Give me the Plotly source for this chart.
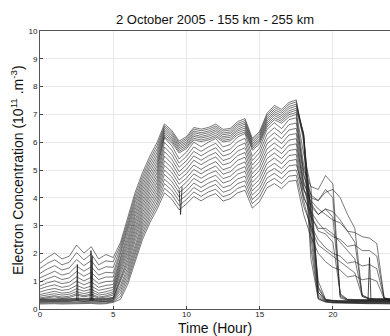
import plotly.graph_objects as go

hours = [0.0, 0.5, 1.0, 1.5, 2.0, 2.5, 3.0, 3.5, 4.0, 4.5, 5.0, 5.5, 6.0, 6.5, 7.0, 7.5,
         8.0, 8.5, 9.0, 9.5, 10.0, 10.5, 11.0, 11.5, 12.0, 12.5, 13.0, 13.5, 14.0, 14.5,
         15.0, 15.5, 16.0, 16.5, 17.0, 17.5, 18.0, 18.5, 19.0, 19.5, 20.0, 20.5, 21.0,
         21.5, 22.0, 22.5, 23.0, 23.5, 24.0]

h255 = [1.65, 1.85, 2.01, 1.80, 1.90, 2.30, 2.01, 2.24, 1.80, 1.96,
        1.85, 2.40, 3.30, 4.20, 4.90, 5.50, 6.00,
        6.66, 6.42, 6.04, 6.20, 6.53, 6.47, 6.53, 6.65, 6.46, 6.50, 6.74, 6.85, 6.14, 6.39, 7.04, 7.32, 7.18, 7.43, 7.52,
        6.00, 1.80, 0.35, 0.25, 0.22, 0.21, 0.20, 0.20, 0.19, 0.19, 0.19, 0.18, 0.18]
h250 = [1.46, 1.64, 1.77, 1.59, 1.68, 2.03, 1.77, 1.98, 1.59, 1.73,
        1.70, 2.30, 3.18, 4.08, 4.78, 5.38, 5.88,
        6.59, 6.36, 5.98, 6.14, 6.47, 6.41, 6.47, 6.58, 6.40, 6.44, 6.67, 6.78, 6.08, 6.33, 6.97, 7.25, 7.11, 7.36, 7.45,
        6.20, 2.20, 0.38, 0.26, 0.23, 0.22, 0.21, 0.21, 0.20, 0.20, 0.20, 0.20, 0.20]
h245 = [1.28, 1.44, 1.56, 1.40, 1.48, 1.78, 1.56, 1.74, 1.40, 1.52,
        1.50, 2.20, 3.06, 3.95, 4.66, 5.26, 5.76,
        6.53, 6.29, 5.92, 6.08, 6.40, 6.34, 6.40, 6.52, 6.33, 6.37, 6.61, 6.71, 6.02, 6.26, 6.90, 7.17, 7.04, 7.28, 7.37,
        6.30, 2.60, 0.42, 0.27, 0.24, 0.23, 0.23, 0.22, 0.22, 0.22, 0.22, 0.21, 0.21]
h240 = [1.12, 1.25, 1.36, 1.22, 1.29, 1.55, 1.36, 1.52, 1.22, 1.32,
        1.30, 2.09, 2.94, 3.83, 4.54, 5.14, 5.64,
        6.46, 6.23, 5.86, 6.01, 6.34, 6.28, 6.34, 6.45, 6.27, 6.31, 6.54, 6.65, 5.95, 6.20, 6.83, 7.10, 6.96, 7.21, 7.30,
        6.30, 3.00, 0.50, 0.28, 0.25, 0.24, 0.24, 0.24, 0.23, 0.23, 0.23, 0.23, 0.23]
h235 = [0.97, 1.09, 1.18, 1.06, 1.12, 1.35, 1.18, 1.32, 1.06, 1.15,
        1.15, 1.99, 2.82, 3.70, 4.42, 5.02, 5.52,
        6.40, 6.16, 5.80, 5.95, 6.27, 6.21, 6.27, 6.39, 6.20, 6.24, 6.47, 6.58, 5.89, 6.13, 6.76, 7.03, 6.89, 7.13, 7.22,
        6.30, 3.30, 0.60, 0.30, 0.27, 0.26, 0.25, 0.25, 0.25, 0.25, 0.24, 0.24, 0.24]
h230 = [0.83, 0.94, 1.01, 0.91, 0.96, 1.16, 1.01, 1.14, 0.91, 0.99,
        1.00, 1.89, 2.70, 3.58, 4.30, 4.90, 5.40,
        6.33, 6.10, 5.74, 5.89, 6.21, 6.15, 6.21, 6.32, 6.14, 6.18, 6.41, 6.51, 5.83, 6.07, 6.69, 6.96, 6.82, 7.06, 7.15,
        6.20, 3.60, 0.75, 0.31, 0.28, 0.27, 0.27, 0.26, 0.26, 0.26, 0.26, 0.26, 0.26]
h225 = [0.72, 0.81, 0.87, 0.78, 0.83, 1.00, 0.87, 0.98, 0.78, 0.85,
        0.88, 1.79, 2.58, 3.45, 4.18, 4.78, 5.28,
        6.26, 6.04, 5.67, 5.83, 6.14, 6.08, 6.14, 6.25, 6.07, 6.11, 6.34, 6.44, 5.77, 6.01, 6.62, 6.88, 6.75, 6.99, 7.07,
        5.60, 4.40, 0.60, 0.33, 0.29, 0.28, 0.28, 0.28, 0.27, 0.27, 0.27, 0.27, 0.27]
h220 = [0.61, 0.69, 0.74, 0.67, 0.71, 0.85, 0.74, 0.83, 0.67, 0.72,
        0.78, 1.68, 2.46, 3.33, 4.06, 4.66, 5.16,
        6.20, 5.97, 5.61, 5.77, 6.08, 6.02, 6.08, 6.19, 6.01, 6.05, 6.27, 6.37, 5.71, 5.94, 6.55, 6.81, 6.68, 6.91, 7.00,
        5.20, 4.10, 0.80, 0.34, 0.30, 0.29, 0.29, 0.29, 0.28, 0.28, 0.28, 0.28, 0.28]
h215 = [0.52, 0.59, 0.64, 0.57, 0.60, 0.73, 0.64, 0.71, 0.57, 0.62,
        0.70, 1.58, 2.34, 3.20, 3.94, 4.54, 5.04,
        6.16, 5.87, 5.40, 5.64, 6.00, 5.84, 6.00, 6.13, 5.83, 5.92, 6.19, 6.31, 5.49, 5.79, 6.46, 6.70, 6.49, 6.81, 6.88,
        4.90, 3.70, 1.00, 0.35, 0.31, 0.30, 0.30, 0.30, 0.29, 0.29, 0.29, 0.29, 0.29]
h210 = [0.46, 0.51, 0.55, 0.50, 0.53, 0.63, 0.55, 0.62, 0.50, 0.54,
        0.62, 1.48, 2.22, 3.08, 3.82, 4.42, 4.92,
        5.99, 5.71, 5.25, 5.49, 5.83, 5.67, 5.83, 5.96, 5.66, 5.75, 6.02, 6.14, 5.34, 5.63, 6.29, 6.52, 6.31, 6.63, 6.69,
        5.00, 4.40, 4.30, 4.80, 4.50, 0.40, 0.32, 0.31, 0.30, 0.30, 0.30, 0.30, 0.30]
h205 = [0.40, 0.45, 0.48, 0.43, 0.46, 0.55, 0.48, 0.54, 0.43, 0.47,
        0.56, 1.38, 2.10, 2.95, 3.70, 4.30, 4.80,
        5.83, 5.55, 5.10, 5.33, 5.67, 5.51, 5.67, 5.80, 5.50, 5.59, 5.85, 5.97, 5.18, 5.47, 6.11, 6.34, 6.13, 6.44, 6.50,
        4.80, 4.10, 3.90, 4.30, 4.00, 0.45, 0.33, 0.32, 0.32, 0.31, 0.31, 0.31, 0.31]
h200 = [0.36, 0.40, 0.44, 0.39, 0.41, 0.50, 0.44, 0.49, 0.39, 0.43,
        0.50, 1.27, 1.98, 2.83, 3.58, 4.18, 4.68,
        5.66, 5.39, 4.94, 5.18, 5.51, 5.35, 5.51, 5.63, 5.34, 5.43, 5.68, 5.80, 5.03, 5.31, 5.94, 6.16, 5.95, 6.26, 6.31,
        4.60, 3.80, 3.40, 3.60, 3.30, 0.50, 0.34, 0.33, 0.33, 0.32, 0.32, 0.32, 0.32]
h195 = [0.36, 0.37, 0.38, 0.37, 0.37, 0.39, 0.38, 0.39, 0.37, 0.38,
        0.42, 1.17, 1.86, 2.70, 3.46, 4.06, 4.56,
        5.50, 5.23, 4.79, 5.02, 5.35, 5.19, 5.35, 5.47, 5.18, 5.27, 5.52, 5.63, 4.87, 5.15, 5.76, 5.97, 5.77, 6.07, 6.13,
        4.40, 3.40, 2.80, 2.70, 2.40, 0.55, 0.35, 0.34, 0.34, 0.33, 0.33, 0.33, 0.33]
h190 = [0.34, 0.35, 0.36, 0.35, 0.35, 0.37, 0.36, 0.37, 0.35, 0.36,
        0.40, 1.07, 1.74, 2.58, 3.34, 3.94, 4.44,
        5.33, 5.07, 4.64, 4.87, 5.18, 5.02, 5.18, 5.30, 5.01, 5.10, 5.35, 5.46, 4.72, 4.99, 5.59, 5.79, 5.59, 5.89, 5.94,
        4.50, 4.00, 3.90, 4.20, 4.30, 4.00, 3.40, 2.90, 0.45, 0.35, 0.34, 0.34, 0.34]
h185 = [0.32, 0.33, 0.34, 0.33, 0.33, 0.35, 0.34, 0.35, 0.33, 0.34,
        0.38, 0.97, 1.62, 2.45, 3.22, 3.82, 4.32,
        5.17, 4.91, 4.49, 4.71, 5.02, 4.86, 5.02, 5.14, 4.85, 4.94, 5.18, 5.29, 4.56, 4.83, 5.41, 5.61, 5.41, 5.70, 5.75,
        4.30, 3.70, 3.40, 3.60, 3.50, 3.20, 2.80, 2.40, 0.50, 0.36, 0.35, 0.35, 0.35]
h180 = [0.30, 0.31, 0.32, 0.31, 0.31, 0.33, 0.32, 0.33, 0.31, 0.32,
        0.36, 0.86, 1.50, 2.33, 3.10, 3.70, 4.20,
        5.00, 4.75, 4.33, 4.56, 4.86, 4.70, 4.86, 4.97, 4.69, 4.78, 5.01, 5.12, 4.41, 4.67, 5.24, 5.43, 5.23, 5.52, 5.56,
        4.10, 3.30, 2.90, 2.90, 2.70, 2.40, 2.10, 1.80, 0.50, 0.37, 0.36, 0.36, 0.36]
h175 = [0.28, 0.29, 0.29, 0.29, 0.29, 0.31, 0.29, 0.31, 0.29, 0.29,
        0.33, 0.76, 1.38, 2.20, 2.98, 3.58, 4.08,
        4.84, 4.59, 4.18, 4.40, 4.70, 4.54, 4.70, 4.81, 4.53, 4.62, 4.85, 4.95, 4.25, 4.51, 5.06, 5.24, 5.05, 5.33, 5.38,
        3.90, 2.90, 2.30, 2.10, 1.90, 1.70, 1.50, 1.30, 0.45, 0.38, 0.37, 0.37, 0.37]
h170 = [0.26, 0.27, 0.27, 0.27, 0.27, 0.29, 0.27, 0.29, 0.27, 0.27,
        0.31, 0.66, 1.26, 2.08, 2.86, 3.46, 3.96,
        4.67, 4.43, 4.03, 4.25, 4.53, 4.37, 4.53, 4.64, 4.36, 4.45, 4.68, 4.78, 4.10, 4.35, 4.89, 5.06, 4.87, 5.15, 5.19,
        4.30, 3.90, 3.60, 3.40, 3.20, 3.10, 2.80, 2.75, 2.60, 2.55, 2.35, 0.40, 0.35]
h165 = [0.24, 0.25, 0.25, 0.24, 0.25, 0.26, 0.25, 0.26, 0.24, 0.25,
        0.28, 0.56, 1.14, 1.95, 2.74, 3.34, 3.84,
        4.51, 4.27, 3.88, 4.09, 4.37, 4.21, 4.37, 4.48, 4.20, 4.29, 4.51, 4.61, 3.94, 4.19, 4.71, 4.88, 4.69, 4.96, 5.00,
        4.00, 3.50, 3.10, 2.80, 2.60, 2.50, 2.25, 2.30, 2.10, 2.10, 1.90, 0.40, 0.33]
h160 = [0.21, 0.22, 0.22, 0.21, 0.22, 0.23, 0.22, 0.23, 0.21, 0.22,
        0.26, 0.45, 1.02, 1.83, 2.62, 3.22, 3.72,
        4.34, 4.11, 3.72, 3.94, 4.21, 4.05, 4.21, 4.31, 4.04, 4.13, 4.34, 4.44, 3.79, 4.03, 4.54, 4.70, 4.51, 4.78, 4.81,
        3.70, 3.00, 2.50, 2.20, 2.00, 1.90, 1.65, 1.70, 1.55, 1.60, 1.45, 0.38, 0.32]
h155 = [0.18, 0.19, 0.19, 0.18, 0.19, 0.20, 0.19, 0.20, 0.18, 0.19,
        0.24, 0.35, 0.90, 1.70, 2.50, 3.10, 3.60,
        4.18, 3.95, 3.57, 3.78, 4.05, 3.89, 4.05, 4.15, 3.88, 3.97, 4.18, 4.27, 3.63, 3.87, 4.36, 4.51, 4.33, 4.59, 4.63,
        3.40, 2.60, 2.00, 1.70, 1.50, 1.40, 1.15, 1.20, 1.05, 1.10, 1.00, 0.36, 0.30]

# short spikes visible in the record
spike1_t = [2.50, 2.55, 2.60]
spike1_v = [0.30, 1.60, 0.30]
spike2_t = [3.42, 3.48, 3.55]
spike2_v = [0.30, 2.10, 0.30]
spike3_t = [3.50, 3.56, 3.62]
spike3_v = [0.30, 1.90, 0.30]
spike4_t = [9.50, 9.60, 9.70]
spike4_v = [4.30, 3.40, 4.40]
spike5_t = [22.40, 22.50, 22.60]
spike5_v = [0.30, 1.85, 0.30]

series = [h255, h250, h245, h240, h235, h230, h225, h220, h215, h210, h205,
          h200, h195, h190, h185, h180, h175, h170, h165, h160, h155]
spikes = [(spike1_t, spike1_v), (spike2_t, spike2_v), (spike3_t, spike3_v),
          (spike4_t, spike4_v), (spike5_t, spike5_v)]

FONT = "Liberation Sans, Arial, sans-serif"
fig = go.Figure()
for s in series:
    fig.add_trace(go.Scatter(x=hours, y=s, mode="lines",
                             line=dict(color="#1e1e1e", width=0.6),
                             hoverinfo="skip", showlegend=False))
for st, sv in spikes:
    fig.add_trace(go.Scatter(x=st, y=sv, mode="lines",
                             line=dict(color="#1e1e1e", width=0.8),
                             hoverinfo="skip", showlegend=False))

axis_common = dict(ticks="inside", ticklen=3, tickcolor="#444",
                   showgrid=True, gridcolor="#e8e8e8", gridwidth=1,
                   showline=True, linecolor="#555", linewidth=1, mirror=True,
                   zeroline=False, tickfont=dict(family=FONT, size=8, color="#222"))

fig.update_layout(
    width=390, height=336,
    margin=dict(l=40, r=0, t=31, b=27),
    paper_bgcolor="white", plot_bgcolor="white",
    xaxis=dict(range=[0, 23.9], tickvals=[0, 5, 10, 15, 20],
               ticklabelstandoff=-3, **axis_common),
    yaxis=dict(range=[0, 10], tickvals=list(range(0, 11)), **axis_common),
    annotations=[
        dict(text="2 October 2005 - 155 km - 255 km", xref="paper", yref="paper",
             x=0.5, y=1.04, xanchor="center", yanchor="middle", showarrow=False,
             font=dict(family=FONT, size=13, color="#111")),
        dict(text="Time (Hour)", xref="paper", yref="paper",
             x=0.5, y=-0.068, xanchor="center", yanchor="middle", showarrow=False,
             font=dict(family=FONT, size=14, color="#111")),
        dict(text="Electron Concentration (10<sup>11</sup> .m<sup>-3</sup>)",
             xref="paper", yref="paper", x=-0.066, y=0.5, textangle=-90,
             xanchor="center", yanchor="middle", showarrow=False,
             font=dict(family=FONT, size=14, color="#111")),
    ],
)

fig.write_html("out.html")
